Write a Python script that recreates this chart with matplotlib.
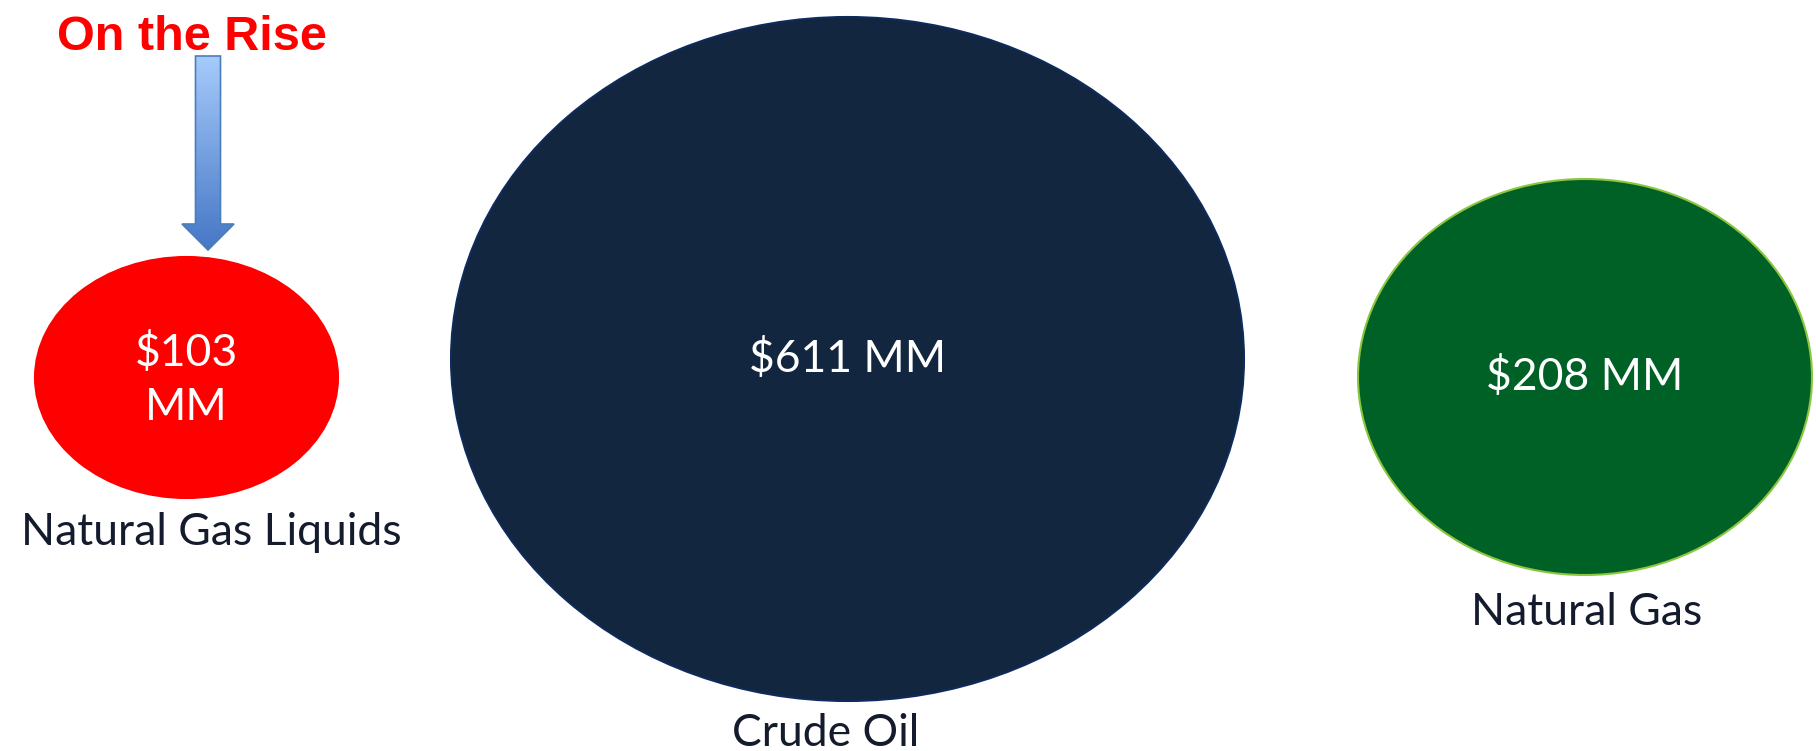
"""Bubble infographic: revenue by product (Natural Gas Liquids, Crude Oil, Natural Gas)."""

import matplotlib

matplotlib.use("Agg")
import matplotlib.pyplot as plt
import numpy as np
from matplotlib.colors import LinearSegmentedColormap
from matplotlib.patches import Ellipse, Polygon

# --- data ---
CATEGORIES = ["Natural Gas Liquids", "Crude Oil", "Natural Gas"]
VALUES_MM = [103, 611, 208]
CALLOUT = "On the Rise"

# --- layout (pixel space, y grows downward) ---
W, H = 1816, 751
DPI = 100
BUBBLE_CENTERS = [(186.5, 377.5), (847.5, 359), (1585, 377)]
BUBBLE_SIZES = [(303, 241), (793, 684), (454, 396)]
BUBBLE_COLORS = ["#fe0000", "#12263f", "#006127"]
BUBBLE_EDGES = ["#fe0000", "#0f2a5c", "#8cc63f"]
VALUE_SEP = ["\n", " ", " "]
VALUE_BASELINES = [366, 372, 390]
LINE_PITCH = 54
LABEL_POS = [(211, 545), (826, 746), (1587, 625)]

TEXT_FONT = ["Lato", "DejaVu Sans"]
TEXT_SIZE = 32
LABEL_COLOR = "#141b2d"

ARROW_X = 208
ARROW_TOP = 56
ARROW_HEAD_Y = 224
ARROW_TIP = 250
SHAFT_HALF = 12.5
HEAD_HALF = 26


def draw_arrow(ax):
    verts = [
        (ARROW_X - SHAFT_HALF, ARROW_TOP),
        (ARROW_X + SHAFT_HALF, ARROW_TOP),
        (ARROW_X + SHAFT_HALF, ARROW_HEAD_Y),
        (ARROW_X + HEAD_HALF, ARROW_HEAD_Y),
        (ARROW_X, ARROW_TIP),
        (ARROW_X - HEAD_HALF, ARROW_HEAD_Y),
        (ARROW_X - SHAFT_HALF, ARROW_HEAD_Y),
    ]
    outline = Polygon(verts, closed=True, facecolor="none", edgecolor="#4a7ebb",
                      linewidth=1.2, zorder=4)
    ax.add_patch(outline)

    # vertical gradient, light on top, darker toward the tip
    cmap = LinearSegmentedColormap.from_list("arrow", ["#a6cbfb", "#4677c6"])
    grad = np.linspace(0, 1, 256).reshape(-1, 1)
    img = ax.imshow(
        grad,
        cmap=cmap,
        extent=[ARROW_X - HEAD_HALF, ARROW_X + HEAD_HALF, ARROW_TIP, ARROW_TOP],
        aspect="auto",
        zorder=3,
        interpolation="bilinear",
    )
    img.set_clip_path(outline)


def main():
    fig = plt.figure(figsize=(W / DPI, H / DPI), dpi=DPI, facecolor="white")
    ax = fig.add_axes([0, 0, 1, 1])
    ax.set_xlim(0, W)
    ax.set_ylim(H, 0)
    ax.axis("off")

    for i, value in enumerate(VALUES_MM):
        (cx, cy), (bw, bh) = BUBBLE_CENTERS[i], BUBBLE_SIZES[i]
        ax.add_patch(
            Ellipse((cx, cy), bw, bh, facecolor=BUBBLE_COLORS[i],
                    edgecolor=BUBBLE_EDGES[i], linewidth=1.5, zorder=2)
        )
        # one Text per line so each baseline sits where the reference has it
        lines = f"${value}{VALUE_SEP[i]}MM".split("\n")
        for k, line in enumerate(lines):
            ax.text(
                cx, VALUE_BASELINES[i] + k * LINE_PITCH, line,
                ha="center", va="baseline", color="white", family=TEXT_FONT,
                fontsize=TEXT_SIZE, parse_math=False, zorder=5,
            )
        lx, ly = LABEL_POS[i]
        ax.text(
            lx, ly, CATEGORIES[i], ha="center", va="baseline", color=LABEL_COLOR,
            family=TEXT_FONT, fontsize=TEXT_SIZE, zorder=5,
        )

    draw_arrow(ax)
    ax.text(
        192, 50, CALLOUT, ha="center", va="baseline", color="#ff0000",
        family=["Liberation Sans", "DejaVu Sans"], fontweight="bold",
        fontsize=35, zorder=5,
    )

    fig.savefig("out.png", dpi=DPI, facecolor="white")
    plt.close(fig)


if __name__ == "__main__":
    main()
